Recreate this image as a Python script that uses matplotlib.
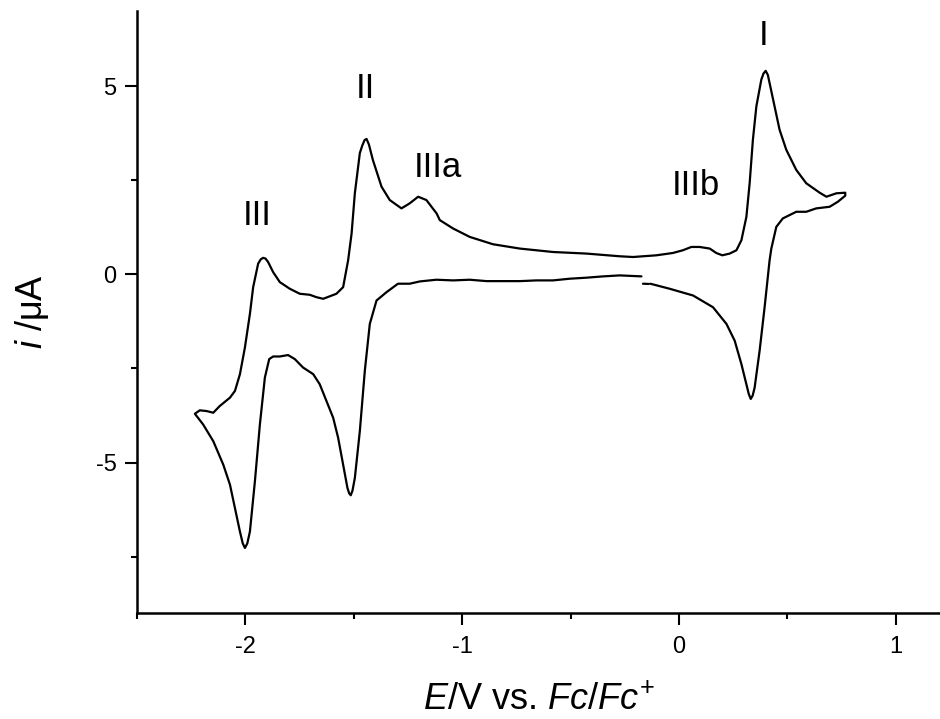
import numpy as np
import matplotlib
matplotlib.use('Agg')
import matplotlib.pyplot as plt
from matplotlib.ticker import MultipleLocator

plt.rcParams['font.family'] = ['Liberation Sans', 'DejaVu Sans']
plt.rcParams['mathtext.fontset'] = 'custom'
plt.rcParams['mathtext.rm'] = 'Liberation Sans'
plt.rcParams['mathtext.it'] = 'Liberation Sans:italic'

nan = np.nan

# potential (V vs Fc/Fc+) and current (uA) of the voltammogram, in scan order
potential = [
    -0.132, -0.043, 0.065, 0.157, 0.219, 0.257, 0.288, 0.311, 0.322, 0.331,
    0.340, 0.349, 0.372, 0.395, 0.418, 0.426, 0.449, 0.479, 0.541, 0.587,
    0.633, 0.695, 0.733, 0.767,
    0.767, 0.726, 0.680, 0.649, 0.587, 0.541, 0.495, 0.464, 0.441, 0.418,
    0.410, 0.400, 0.390, 0.380, 0.357, 0.341, 0.326, 0.311, 0.288, 0.265,
    0.234, 0.200, 0.172, 0.142, 0.095, 0.057, 0.018, -0.028, -0.104, -0.212,
    -0.273, -0.427, -0.581, -0.734, -0.858, -0.965, -1.042, -1.103, -1.118, -1.165,
    -1.203, -1.242, -1.280, -1.334, -1.372, -1.412, -1.430, -1.441, -1.450, -1.461,
    -1.472, -1.495, -1.510, -1.526, -1.549, -1.580, -1.641, -1.672, -1.703, -1.749,
    -1.795, -1.841, -1.872, -1.895, -1.907, -1.918, -1.929, -1.941, -1.964, -1.979,
    -2.002, -2.025, -2.048, -2.071, -2.118, -2.148, -2.179, -2.210, -2.233,
    -2.195, -2.148, -2.102, -2.071, -2.048, -2.025, -2.012, -2.002, -1.991, -1.979,
    -1.956, -1.933, -1.910, -1.890, -1.872, -1.841, -1.803, -1.772, -1.734, -1.687,
    -1.657, -1.626, -1.595, -1.572, -1.549, -1.529, -1.521, -1.514, -1.506, -1.495,
    -1.472, -1.449, -1.426, -1.395, -1.349, -1.296, -1.242, -1.195, -1.119, -1.042,
    -0.965, -0.888, -0.811, -0.734, -0.657, -0.581, -0.504, -0.427, -0.350, -0.273,
    -0.173,
    nan, -0.166, -0.140,
]
current = [
    -0.248, -0.382, -0.561, -0.873, -1.316, -1.762, -2.385, -2.919, -3.180, -3.310,
    -3.220, -3.009, -2.029, -0.873, 0.374, 0.686, 1.263, 1.487, 1.664, 1.664,
    1.754, 1.797, 1.931, 2.091,
    2.171, 2.155, 2.064, 2.171, 2.422, 2.777, 3.311, 3.845, 4.467, 5.092,
    5.300, 5.410, 5.340, 5.180, 4.467, 3.578, 2.422, 1.530, 0.908, 0.641,
    0.553, 0.507, 0.569, 0.686, 0.729, 0.729, 0.641, 0.569, 0.507, 0.462,
    0.481, 0.553, 0.595, 0.686, 0.801, 0.996, 1.220, 1.442, 1.621, 1.976,
    2.064, 1.888, 1.754, 1.976, 2.331, 3.044, 3.450, 3.600, 3.570, 3.420,
    3.223, 2.155, 1.087, 0.374, -0.339, -0.515, -0.649, -0.606, -0.542, -0.515,
    -0.382, -0.206, 0.061, 0.328, 0.420, 0.440, 0.400, 0.286, -0.339, -1.049,
    -1.941, -2.652, -3.097, -3.276, -3.498, -3.677, -3.632, -3.613, -3.704,
    -3.987, -4.433, -5.055, -5.589, -6.214, -6.836, -7.150, -7.270, -7.150, -6.836,
    -5.501, -3.987, -2.742, -2.251, -2.182, -2.182, -2.144, -2.251, -2.475, -2.652,
    -2.919, -3.364, -3.810, -4.344, -5.055, -5.680, -5.820, -5.870, -5.750, -5.413,
    -4.166, -2.563, -1.316, -0.694, -0.473, -0.248, -0.248, -0.187, -0.142, -0.160,
    -0.142, -0.179, -0.179, -0.179, -0.160, -0.160, -0.115, -0.088, -0.053, -0.027,
    -0.053,
    nan, -0.248, -0.254,
]

# peak labels and their positions
peak_names = ['I', 'II', 'III', 'IIIa', 'IIIb']
peak_x = [0.388, -1.445, -1.947, -1.114, 0.076]
peak_y = [6.355, 4.95, 1.575, 2.84, 2.36]

fig = plt.figure(figsize=(9.4, 7.19), dpi=100)
ax = fig.add_axes([0.1457, 0.1474, 0.8543, 0.8373])

ax.plot(potential, current, color='black', lw=1.6,
        solid_joinstyle='round', solid_capstyle='round')

for name, px, py in zip(peak_names, peak_x, peak_y):
    ax.text(px, py, name, fontsize=25, ha='center', va='center')

ax.set_xlim(-2.5, 1.204)
ax.set_ylim(-9, 7)
ax.xaxis.set_minor_locator(MultipleLocator(0.5))
ax.yaxis.set_minor_locator(MultipleLocator(2.5))
ax.set_yticks([-5, 0, 5])
ax.set_yticklabels(['-5', '0', '5'])
ax.set_xticks([-2, -1, 0, 1])
ax.set_xticklabels(['-2', '-1', '0', '1'])

for side in ['top', 'right']:
    ax.spines[side].set_visible(False)
for side in ['left', 'bottom']:
    ax.spines[side].set_linewidth(1.8)

ax.tick_params(which='major', direction='out', length=8.6, width=1.5, labelsize=17)
ax.tick_params(axis='x', which='major', pad=7.7)
ax.tick_params(axis='y', which='major', pad=6)
ax.tick_params(which='minor', direction='out', length=4.3, width=1.5)

ax.set_xlabel(r'$E$/V vs. $Fc$/$Fc^{+}$', fontsize=26, labelpad=18)
ax.set_ylabel(r'$i$ /μA', fontsize=26, labelpad=32)

fig.savefig('out.png', dpi=100)
